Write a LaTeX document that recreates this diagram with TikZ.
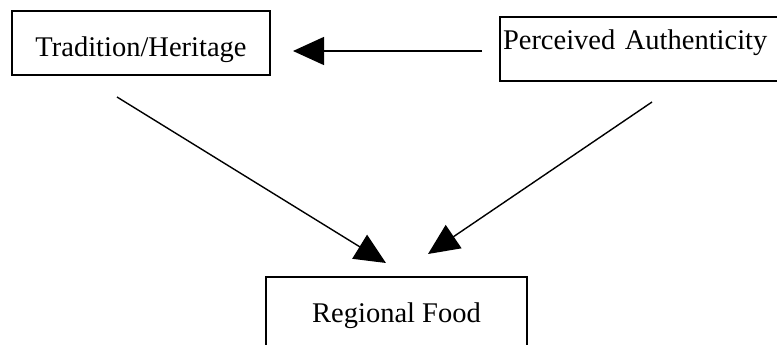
\documentclass[tikz,border=0pt]{standalone}
\usepackage{fontspec}
\setmainfont{Liberation Serif}
\usetikzlibrary{arrows.meta, positioning}

\begin{document}
\begin{tikzpicture}[
      x=1pt, y=-1pt,
      mybox/.style={
         rectangle,
         draw=black,
         line width=1.3pt,
         inner sep=3pt,
         font=\fontsize{28.5}{32}\selectfont},
      myarrow/.style={-{Triangle[length=31pt,width=28pt]}, line width=1.4pt}
      ]
      \useasboundingbox (0,0) rectangle (777,345);

      \node[mybox, minimum width=258pt, minimum height=64pt,
            text height=34pt, text depth=6pt] at (141, 43) (th) {Tradition/Heritage};
      \node[mybox, minimum height=64pt, text width=284pt, align=left,
            text height=10pt, text depth=8pt] at (645, 49) (pa) {Perceived Authenticity};
      \node[mybox, minimum width=261pt, minimum height=86pt,
            text height=12pt, text depth=8pt] at (396.5, 320) (rf) {Regional Food};

      % free ends of the arrows
      \coordinate (pa-out) at (482, 51);
      \coordinate (th-in)  at (293, 51);
      \coordinate (th-out) at (117, 97);
      \coordinate (pa-low) at (652, 102);
      \coordinate (rf-l)   at (386, 263);
      \coordinate (rf-r)   at (428, 254);

    \foreach \i/\j in {% start/end
      pa-out/th-in,
      th-out/rf-l,
      pa-low/rf-r%
      }
       \draw [myarrow] (\i) -- (\j);

    \end{tikzpicture}
\end{document}
